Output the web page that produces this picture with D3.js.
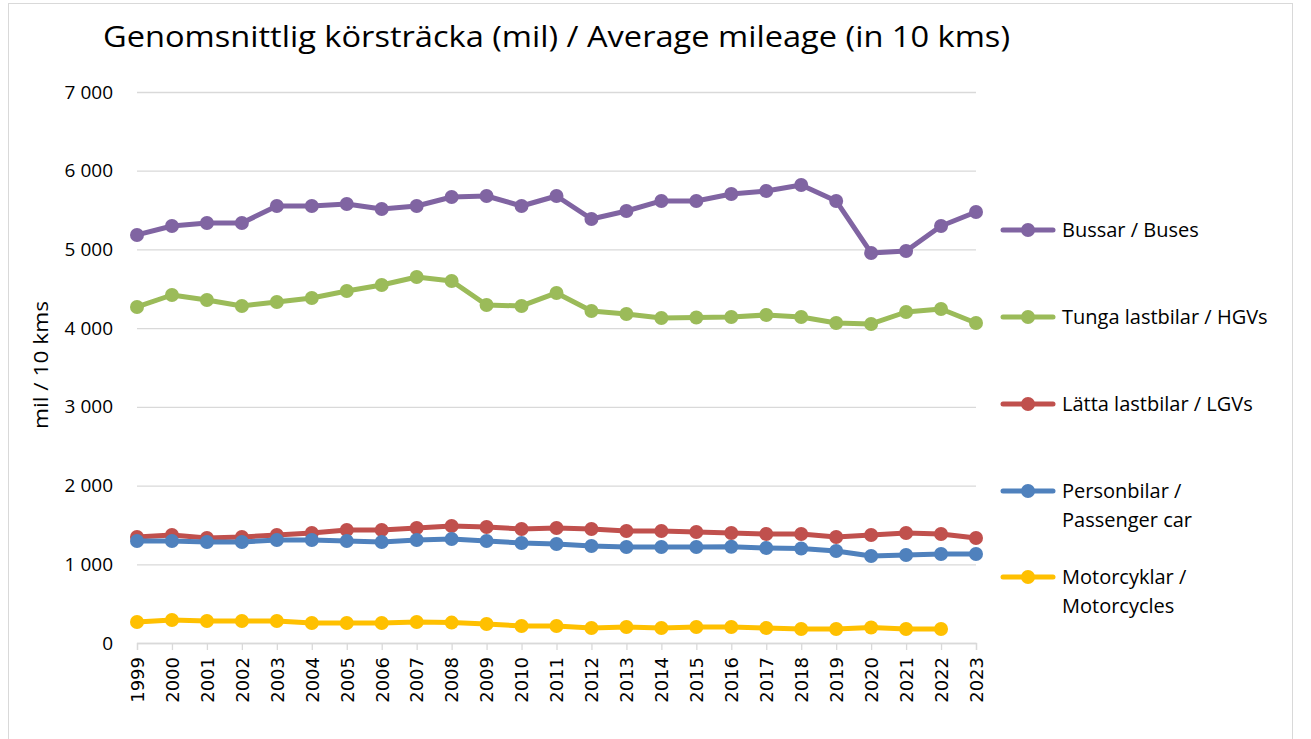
<!DOCTYPE html>
<html>
<head>
<meta charset="utf-8">
<script src="https://cdn.jsdelivr.net/npm/d3@7"></script>
<style>
  body { margin: 0; background: #fff; }
  text { font-family: "Open Sans", "Noto Sans", sans-serif; fill: #000; }
</style>
</head>
<body>
<div id="chart"></div>
<script>
// years on the x axis
const years = d3.range(1999, 2024).map(String);

const buses = [5184, 5298, 5336, 5336, 5552, 5552, 5578, 5514, 5552, 5666, 5679, 5552, 5679,
  5387, 5488, 5616, 5616, 5704, 5743, 5819, 5616, 4955, 4980, 5298, 5476];
const hgvs = [4269, 4421, 4358, 4282, 4332, 4383, 4472, 4548, 4650, 4599, 4294, 4282, 4447,
  4218, 4180, 4129, 4135, 4142, 4167, 4142, 4066, 4053, 4205, 4243, 4066];
const lgvs = [1347, 1372, 1334, 1347, 1372, 1398, 1436, 1436, 1461, 1486, 1474, 1448, 1461,
  1448, 1423, 1423, 1410, 1398, 1385, 1385, 1347, 1372, 1398, 1385, 1334];
const cars = [1296, 1296, 1283, 1283, 1309, 1309, 1296, 1283, 1309, 1321, 1296, 1270, 1258,
  1232, 1220, 1220, 1220, 1222, 1207, 1200, 1169, 1105, 1118, 1131, 1131];
const motorcycles = [267, 292, 280, 280, 280, 254, 254, 254, 267, 259, 241, 216, 216,
  190, 203, 190, 203, 203, 190, 178, 178, 196, 178, 178, null];

const seriesNames = [
  ["Bussar / Buses"],
  ["Tunga lastbilar / HGVs"],
  ["Lätta lastbilar / LGVs"],
  ["Personbilar /", "Passenger car"],
  ["Motorcyklar /", "Motorcycles"]
];
const seriesValues = [buses, hgvs, lgvs, cars, motorcycles];
const colors = ["#8064A2", "#9BBB59", "#C0504D", "#4F81BD", "#FFC000"];
const yTicks = [0, 1000, 2000, 3000, 4000, 5000, 6000, 7000];

const width = 1311, height = 739;
const plotLeft = 137, plotRight = 976, plotTop = 92, plotBottom = 643;

const svg = d3.select('#chart')
  .append('svg')
  .attr('width', width)
  .attr('height', height);

// outer chart border
svg.append('rect')
  .attr('x', 8.5).attr('y', 3.5)
  .attr('width', 1284).attr('height', 740)
  .attr('fill', 'none')
  .attr('stroke', '#d9d9d9');

const x = d3.scalePoint().domain(years).range([plotLeft, plotRight]);
const y = d3.scaleLinear().domain([0, 7000]).range([plotBottom, plotTop]);

// gridlines + y labels
const yAxis = svg.append('g')
  .attr('transform', `translate(${plotLeft},0)`)
  .call(d3.axisLeft(y).tickValues(yTicks).tickSize(-(plotRight - plotLeft)).tickPadding(24)
    .tickFormat(d => d === 0 ? '0' : d3.format(',')(d).replace(',', ' ')));
yAxis.select('.domain').remove();
yAxis.selectAll('.tick line').attr('stroke', '#d9d9d9').attr('stroke-width', 1.3);
yAxis.selectAll('.tick text').style('font-size', '19px').attr('fill', '#000');

// x axis
const xAxis = svg.append('g')
  .attr('transform', `translate(0,${plotBottom})`)
  .call(d3.axisBottom(x).tickSize(7).tickPadding(4));
xAxis.select('.domain').attr('stroke', '#d9d9d9').attr('stroke-width', 1.3);
xAxis.selectAll('.tick line').attr('stroke', '#d9d9d9').attr('stroke-width', 1.3);
xAxis.selectAll('.tick text')
  .style('font-family', '"DejaVu Sans", sans-serif')
  .style('font-size', '18px')
  .attr('fill', '#000')
  .attr('transform', 'rotate(-90)')
  .attr('text-anchor', 'end')
  .attr('x', -14)
  .attr('y', 0)
  .attr('dy', '0.35em');

// y axis title
svg.append('text')
  .attr('transform', 'translate(48,365) rotate(-90)')
  .attr('text-anchor', 'middle')
  .style('font-size', '20px')
  .attr('textLength', 128)
  .attr('lengthAdjust', 'spacingAndGlyphs')
  .text('mil / 10 kms');

// title
svg.append('text')
  .attr('x', 103).attr('y', 47)
  .style('font-size', '30px')
  .attr('textLength', 907)
  .attr('lengthAdjust', 'spacingAndGlyphs')
  .text('Genomsnittlig körsträcka (mil) / Average mileage (in 10 kms)');

const line = d3.line()
  .defined(d => d != null)
  .x((d, i) => x(years[i]))
  .y(d => y(d));

seriesValues.forEach((vals, s) => {
  svg.append('path')
    .attr('d', line(vals))
    .attr('fill', 'none')
    .attr('stroke', colors[s])
    .attr('stroke-width', 5)
    .attr('stroke-linejoin', 'round');
  svg.append('g').selectAll('circle')
    .data(vals.map((v, i) => ({ v, i })).filter(d => d.v != null))
    .enter()
    .append('circle')
    .attr('cx', d => x(years[d.i]))
    .attr('cy', d => y(d.v))
    .attr('r', 7)
    .attr('fill', colors[s]);
});

// legend
const legendY = [230, 317, 404, 491, 577];
seriesNames.forEach((lines, s) => {
  const g = svg.append('g').attr('transform', `translate(1003,${legendY[s]})`);
  g.append('line')
    .attr('x1', 0).attr('x2', 50)
    .attr('stroke', colors[s]).attr('stroke-width', 5).attr('stroke-linecap', 'round');
  g.append('circle').attr('cx', 25).attr('r', 7).attr('fill', colors[s]);
  lines.forEach((t, k) => {
    g.append('text')
      .attr('x', 59).attr('y', k * 29)
      .attr('dy', '0.35em')
      .style('font-size', '20px')
      .text(t);
  });
});
</script>
</body>
</html>
